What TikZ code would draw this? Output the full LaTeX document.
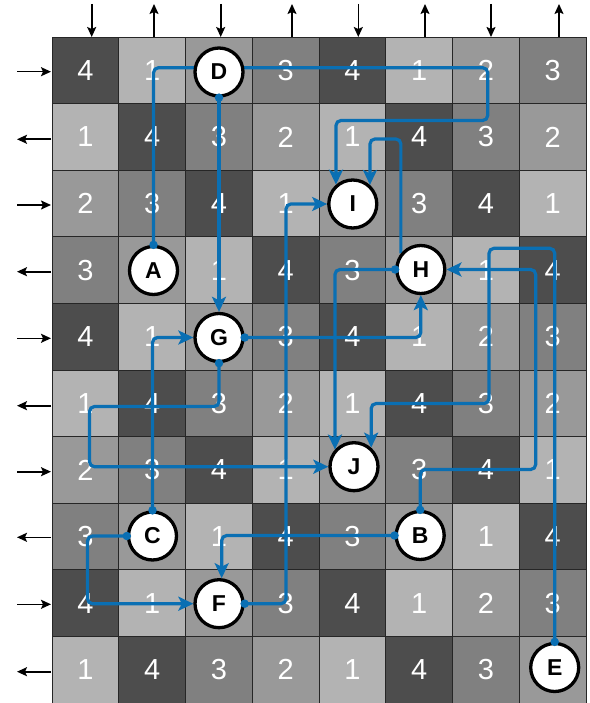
\documentclass[tikz,border=0pt]{standalone}
\usepackage{fontspec}
\setmainfont{Liberation Sans}
\usetikzlibrary{arrows.meta}
\pgfdeclarelayer{cells}
\pgfdeclarelayer{links}
\pgfsetlayers{cells,links,main}
\definecolor{c0}{HTML}{999999}
\definecolor{c1}{HTML}{B3B3B3}
\definecolor{c2}{HTML}{999999}
\definecolor{c3}{HTML}{808080}
\definecolor{c4}{HTML}{4D4D4D}
\definecolor{link}{HTML}{0A6FB3}
\begin{document}
\begin{tikzpicture}[x=1pt,y=-1pt,
  cellbox/.style={draw=black!85, line width=0.9pt, minimum width=66.75pt, minimum height=66.6pt,
    inner sep=0pt, outer sep=0pt, text=white, font=\fontsize{29}{29}\selectfont},
  letter/.style={circle, draw=black, line width=3.3pt, fill=white, minimum size=48pt, inner sep=0pt,
    font=\fontsize{23}{23}\selectfont\bfseries},
  conn/.style={draw=link, line width=3.2pt, rounded corners=5pt,
    -{Stealth[length=15pt,width=14pt,inset=3.5pt]}},
  dot/.style={circle, fill=link, minimum size=8.5pt, inner sep=0pt},
  side/.style={line width=1.6pt, -{Stealth[length=10pt,width=9pt,inset=2pt]}}
]
\useasboundingbox (0,0) rectangle (589,703);

% grid cells
\begin{pgfonlayer}{cells}
\foreach \r/\vals in {0/{4,1,0,3,4,1,2,3},1/{1,4,3,2,1,4,3,2},2/{2,3,4,1,0,3,4,1},
  3/{3,0,1,4,3,0,1,4},4/{4,1,0,3,4,1,2,3},5/{1,4,3,2,1,4,3,2},6/{2,3,4,1,0,3,4,1},
  7/{3,0,1,4,3,0,1,4},8/{4,1,0,3,4,1,2,3},9/{1,4,3,2,1,4,3,0}}{
  \foreach \v [count=\c from 0] in \vals {
    \node[cellbox, fill=c\v] (cell-\r-\c) at ({52+66.75*(\c+0.5)},{37+66.6*(\r+0.5)}) {\ifnum\v>0 \v\fi};
  }
}
\end{pgfonlayer}

% letter nodes
\node[letter] (D) at (219,72) {D};
\node[letter] (A) at (153.5,270.5) {A};
\node[letter] (G) at (219,337.5) {G};
\node[letter] (C) at (152.5,536) {C};
\node[letter] (F) at (219,603.7) {F};
\node[letter] (I) at (352.8,204) {I};
\node[letter] (J) at (354,466.7) {J};
\node[letter] (H) at (420.8,269.5) {H};
\node[letter] (B) at (420.2,535.5) {B};
\node[letter] (E) at (554.7,667.5) {E};

% connectors
\begin{pgfonlayer}{links}
\draw[conn] (A.north) -- (A.north |- 0,67.7) -- (487.7,67.7) -- (487.7,120.5) -- (I.131 |- 0,120.5) -- (I.131);
\draw[conn] (H.141) -- (H.141 |- 0,139) -- (I.48 |- 0,139) -- (I.48);
\draw[conn] (F.east) -- (F.east -| 286,0) -- (I.west -| 286,0) -- (I.west);
\draw[conn] (D.south) -- (G.north);
\draw[conn] (G.east) -- (G.east -| H.south) -- (H.south);
\draw[conn] (G.south) -- (G.south |- 0,406.5) -- (89.5,406.5) -- (J.west -| 89.5,0) -- (J.west);
\draw[conn] (C.north) -- (C.north |- G.west) -- (G.west);
\draw[conn] (C.west) -- (C.west -| 87.5,0) -- (F.west -| 87.5,0) -- (F.west);
\draw[conn] (B.west) -- (B.west -| F.84) -- (F.84);
\draw[conn] (B.north) -- (B.north |- 0,469.5) -- (535.7,469.5) -- (H.east -| 535.7,0) -- (H.east);
\draw[conn] (E.north) -- (E.north |- 0,248.3) -- (489,248.3) -- (489,403.5) -- (J.48 |- 0,403.5) -- (J.48);
\draw[conn] (H.west) -- (H.west -| J.138) -- (J.138);
\end{pgfonlayer}

% start dots
\foreach \p [count=\k] in {A.north,D.south,G.east,G.south,C.north,C.west,F.east,B.west,B.north,E.north,H.west}
  \node[dot] (dot\k) at (\p) {};

% top arrows
\foreach \x/\d [count=\k from 0] in {91.7/1,154/0,220.7/1,292/0,358.3/1,425/0,491/1,559/0}{
  \coordinate (top\k) at (\x,4);
  \coordinate (base\k) at (\x,37);
  \ifnum\d=1 \draw[side] (top\k) -- (base\k); \else \draw[side] (base\k) -- (top\k); \fi
}
% left arrows
\foreach \y/\d [count=\k from 0] in {71.7/1,139.3/0,205/1,271.7/0,338.3/1,405.7/0,471.7/1,537.3/0,604.3/1,671.7/0}{
  \coordinate (out\k) at (17,\y);
  \coordinate (in\k) at (51,\y);
  \ifnum\d=1 \draw[side] (out\k) -- (in\k); \else \draw[side] (in\k) -- (out\k); \fi
}
\end{tikzpicture}
\end{document}
